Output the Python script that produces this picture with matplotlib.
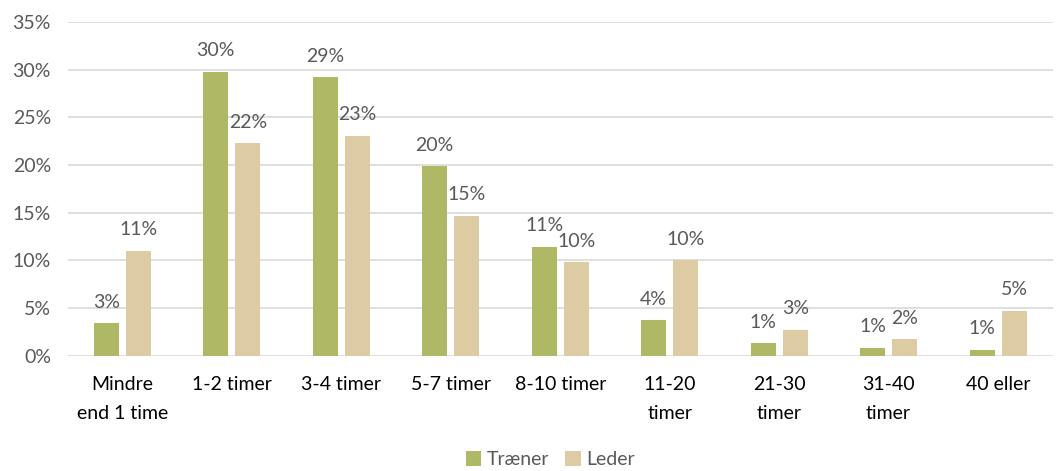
import matplotlib.pyplot as plt
import numpy as np
from matplotlib.ticker import PercentFormatter

categories = ["Mindre\nend 1 time", "1-2 timer", "3-4 timer", "5-7 timer", "8-10 timer",
              "11-20\ntimer", "21-30\ntimer", "31-40\ntimer", "40 eller"]
traener = [3.4, 29.8, 29.2, 19.9, 11.4, 3.7, 1.3, 0.8, 0.6]
leder = [11.0, 22.3, 23.1, 14.7, 9.8, 10.0, 2.7, 1.7, 4.7]
series_names = ["Træner", "Leder"]

GREEN = "#AFB865"
BEIGE = "#DDCBA4"
GRAY = "#595959"

plt.rcParams["font.family"] = ["Lato", "DejaVu Sans"]

fig, ax = plt.subplots(figsize=(10.56, 4.71), dpi=100)
fig.subplots_adjust(left=0.064, right=0.997, top=0.953, bottom=0.245)

x = np.arange(len(categories))
width = 0.228
off = 0.146

b1 = ax.bar(x - off, traener, width, color=GREEN, label=series_names[0], zorder=3)
b2 = ax.bar(x + off, leder, width, color=BEIGE, label=series_names[1], zorder=3)

for bars, vals in ((b1, traener), (b2, leder)):
    for rect, v in zip(bars, vals):
        ax.annotate(f"{v:.0f}%", (rect.get_x() + rect.get_width() / 2, v),
                    xytext=(0, 9), textcoords="offset points",
                    ha="center", va="bottom", fontsize=14, color=GRAY)

ax.set_xlim(-0.5, len(categories) - 0.5)
ax.set_ylim(0, 35)
ax.set_yticks(np.arange(0, 36, 5))
ax.yaxis.set_major_formatter(PercentFormatter(decimals=0))
ax.grid(axis="y", color="#D9D9D9", linewidth=1.2, zorder=0)
ax.set_xticks(x)
ax.set_xticklabels(categories, fontsize=14, color="black", linespacing=1.85)
ax.tick_params(axis="y", labelsize=14, labelcolor=GRAY, length=0, pad=12)
ax.tick_params(axis="x", length=0, pad=15)
for s in ax.spines.values():
    s.set_visible(False)

ax.legend(loc="lower center", bbox_to_anchor=(0.49, -0.39), ncol=2, frameon=False,
          fontsize=14, handlelength=0.8, handleheight=0.8, handletextpad=0.3,
          columnspacing=0.8, labelcolor=GRAY)

fig.savefig("out.png")
